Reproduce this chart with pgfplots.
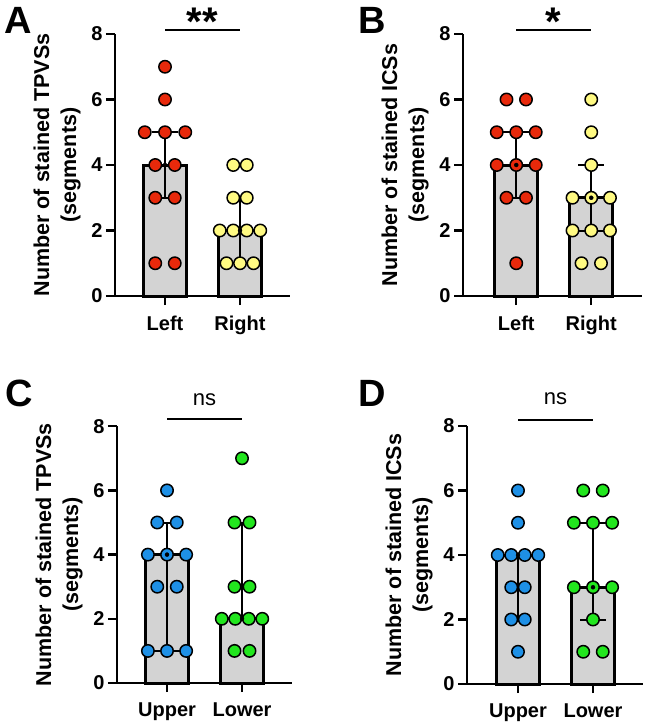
\documentclass[border=0pt]{standalone}
\usepackage{fontspec}
\setmainfont{Liberation Sans}
\usepackage{pgfplots}
\pgfplotsset{compat=1.18}

\definecolor{barfill}{HTML}{D3D3D3}
\definecolor{dotred}{HTML}{E8290B}
\definecolor{dotyellow}{HTML}{FFFA82}
\definecolor{dotblue}{HTML}{1E90E6}
\definecolor{dotgreen}{HTML}{22E61E}

\pgfplotsset{
  panel/.style={
    x=75pt, xmax=1.67, ymin=0, ymax=8,
    axis x line*=bottom, axis y line*=left,
    axis line style={line width=2.7pt, -},
    xtick={0,1}, ytick={0,2,4,6,8},
    tick align=outside, major tick length=9pt,
    major tick style={line width=2.4pt, black},
    tick label style={font=\fontsize{20}{22}\selectfont\bfseries},
    xticklabel shift=7pt,
    /pgf/number format/assume math mode=true,
    ylabel style={at={(axis description cs:0,0.5)}, yshift=58pt,
      anchor=center, align=center,
      font=\fontsize{21.5}{27}\selectfont\bfseries},
    clip=false,
    anchor=south west,
  },
  bars/.style={ybar, bar width=43pt, fill=barfill, draw=black, line width=3pt},
  dots/.style={only marks, mark=*, mark size=6.2pt,
    mark options={draw=black, line width=1.5pt, fill=#1}},
  iqr/.style={only marks, mark=none, black,
    error bars/.cd, y dir=both, y explicit,
    error bar style={line width=2pt, black},
    error mark options={rotate=90, mark size=13pt, line width=2pt, black}},
  sig/.style={line width=2.4pt, black, mark=none},
}

\begin{document}
\begin{tikzpicture}

% ---------------- A ----------------
\begin{axis}[panel, at={(115pt,-296pt)}, y=32.75pt, xmin=-0.667,
  xticklabels={Left,Right},
  ylabel={Number of stained TPVSs\\(segments)}]
\addplot[bars] coordinates {(0,4) (1,2)};
\addplot[dots=dotred] coordinates {
  (0,7) (0,6) (-0.27,5) (0,5) (0.27,5) (-0.13,4) (0.13,4)
  (-0.13,3) (0.13,3) (-0.13,1) (0.13,1)};
\addplot[dots=dotyellow] coordinates {
  (0.91,4) (1.09,4) (0.91,3) (1.09,3)
  (0.73,2) (0.91,2) (1.09,2) (1.27,2) (0.82,1) (1,1) (1.18,1)};
\addplot[iqr] coordinates {(0,4) += (0,1) -= (0,1) (1,2) += (0,1) -= (0,1)};
\addplot[sig] coordinates {(0,8.12) (1,8.12)};
\node[anchor=base, font=\fontsize{40}{40}\selectfont\bfseries] at (axis cs:0.5,7.95) {**};
\end{axis}

% ---------------- B ----------------
\begin{axis}[panel, at={(463pt,-296pt)}, y=32.75pt, xmin=-0.71,
  xticklabels={Left,Right},
  ylabel={Number of stained ICSs\\(segments)}]
\addplot[bars] coordinates {(0,4) (1,3)};
\addplot[dots=dotred] coordinates {
  (-0.13,6) (0.13,6) (-0.26,5) (0,5) (0.26,5) (-0.26,4) (0,4) (0.26,4)
  (-0.13,3) (0.13,3) (0,1)};
\addplot[dots=dotyellow] coordinates {
  (1,6) (1,5) (1,4) (0.75,3) (1,3) (1.25,3) (0.75,2) (1,2) (1.25,2)
  (0.87,1) (1.13,1)};
\addplot[iqr] coordinates {(0,4) += (0,1) -= (0,1) (1,3) += (0,1) -= (0,1)};
\addplot[sig] coordinates {(0,8.12) (1,8.12)};
\node[anchor=base, font=\fontsize{40}{40}\selectfont\bfseries] at (axis cs:0.5,7.95) {*};
\end{axis}

% ---------------- C ----------------
\begin{axis}[panel, at={(117pt,-683pt)}, y=32.1pt, xmin=-0.667,
  xticklabels={Upper,Lower},
  ylabel={Number of stained TPVSs\\(segments)}]
\addplot[bars] coordinates {(0,4) (1,2)};
\addplot[dots=dotblue] coordinates {
  (0,6) (-0.13,5) (0.13,5) (-0.255,4) (0,4) (0.255,4) (-0.13,3) (0.13,3)
  (-0.255,1) (0,1) (0.255,1)};
\addplot[dots=dotgreen] coordinates {
  (1,7) (0.9,5) (1.1,5) (0.9,3) (1.1,3)
  (0.73,2) (0.91,2) (1.09,2) (1.27,2) (0.9,1) (1.1,1)};
\addplot[iqr] coordinates {(0,4) += (0,1) -= (0,3) (1,2) += (0,3) -= (0,0)};
\addplot[sig] coordinates {(0,8.22) (1,8.22)};
\node[anchor=base, font=\fontsize{22}{22}\selectfont] at (axis cs:0.5,8.66) {ns};
\end{axis}

% ---------------- D ----------------
\begin{axis}[panel, at={(467pt,-684pt)}, y=32.25pt, xmin=-0.68,
  xticklabels={Upper,Lower},
  ylabel={Number of stained ICSs\\(segments)}]
\addplot[bars] coordinates {(0,4) (1,3)};
\addplot[dots=dotblue] coordinates {
  (0,6) (0,5) (-0.27,4) (-0.09,4) (0.09,4) (0.27,4)
  (-0.09,3) (0.09,3) (-0.09,2) (0.09,2) (0,1)};
\addplot[dots=dotgreen] coordinates {
  (0.87,6) (1.13,6) (0.745,5) (1,5) (1.255,5) (0.745,3) (1,3) (1.255,3)
  (1,2) (0.87,1) (1.13,1)};
\addplot[iqr] coordinates {(0,4) += (0,0) -= (0,2) (1,3) += (0,2) -= (0,1)};
\addplot[sig] coordinates {(0,8.19) (1,8.19)};
\node[anchor=base, font=\fontsize{22}{22}\selectfont] at (axis cs:0.5,8.66) {ns};
\end{axis}

% panel letters
\node[anchor=base west, inner sep=0pt, font=\fontsize{38}{38}\selectfont\bfseries] at (4pt,-34pt) {A};
\node[anchor=base west, inner sep=0pt, font=\fontsize{38}{38}\selectfont\bfseries] at (358pt,-34pt) {B};
\node[anchor=base west, inner sep=0pt, font=\fontsize{38}{38}\selectfont\bfseries] at (5pt,-406pt) {C};
\node[anchor=base west, inner sep=0pt, font=\fontsize{38}{38}\selectfont\bfseries] at (358pt,-406pt) {D};

\pgfresetboundingbox
\path[use as bounding box] (0,0) rectangle (646pt,-725pt);
\end{tikzpicture}
\end{document}
